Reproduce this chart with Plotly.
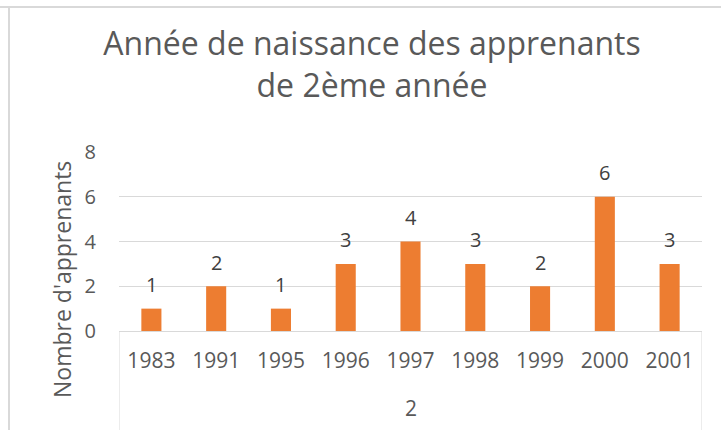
import plotly.graph_objects as go

years = ["1983", "1991", "1995", "1996", "1997", "1998", "1999", "2000", "2001"]
group_label = "2"
counts = [1, 2, 1, 3, 4, 3, 2, 6, 3]
y_ticks = [0, 2, 4, 6, 8]

FONT = "Open Sans"
GREY = "#595959"
LINE = "#D9D9D9"

W, H = 721, 430
L, R, T, B = 119, 19, 152, 99
PH = H - T - B


def py(pix):
    """pixel y (from top) -> paper y"""
    return (H - B - pix) / PH


def px(pix):
    return (pix - L) / (W - L - R)


fig = go.Figure(
    go.Bar(
        x=years,
        y=counts,
        marker=dict(color="#ED7D31", line=dict(width=0)),
        hoverinfo="skip",
    )
)

# data labels above bars, placed on the axes' scales (category index)
for i, c in enumerate(counts):
    fig.add_annotation(
        x=i, y=c, xref="x", yref="y",
        text=str(c), showarrow=False,
        xanchor="center", yanchor="middle", yshift=24,
        font=dict(family=FONT, size=20, color="#404040"),
    )

fig.update_layout(
    width=W,
    height=H,
    margin=dict(l=L, r=R, t=T, b=B, autoexpand=False),
    paper_bgcolor="white",
    plot_bgcolor="white",
    bargap=0.69,
    showlegend=False,
    title=dict(
        text="Année de naissance des apprenants<br>de 2ème année",
        x=0.516,
        xanchor="center",
        xref="container",
        yref="container",
        y=1 - 55 / H,
        yanchor="top",
        font=dict(family=FONT, size=32, color=GREY),
    ),
    font=dict(family=FONT, color=GREY),
)

fig.update_yaxes(
    range=[0, 8],
    tickvals=y_ticks,
    showgrid=True,
    gridcolor=LINE,
    gridwidth=1,
    zeroline=False,
    showline=False,
    ticks="",
    automargin=False,
    ticklabelstandoff=22,
    tickfont=dict(family=FONT, size=20, color=GREY),
)

fig.update_xaxes(
    type="category",
    categoryorder="array",
    categoryarray=years,
    range=[-0.5, len(years) - 0.5],
    showline=True,
    linecolor=LINE,
    linewidth=1,
    ticks="",
    automargin=False,
    ticklabelstandoff=11,
    tickfont=dict(family=FONT, size=21, color=GREY),
)

# group level label and its dividers (category axis scale)
fig.add_annotation(
    text=group_label,
    xref="x", yref="paper",
    x=(len(years) - 1) / 2, y=py(408),
    showarrow=False, xanchor="center", yanchor="middle",
    font=dict(family=FONT, size=21, color=GREY),
)
for xe in (-0.5, len(years) - 0.5):
    fig.add_shape(type="line", xref="x", yref="paper",
                  x0=xe, x1=xe, y0=0, y1=py(432),
                  line=dict(color=LINE, width=1))

fig.add_annotation(
    text="Nombre d'apprenants",
    textangle=-90,
    xref="paper", yref="paper",
    x=px(62), y=py(280),
    showarrow=False,
    xanchor="center", yanchor="middle",
    font=dict(family=FONT, size=23, color=GREY),
)

# outer chart frame edges
fig.add_shape(type="line", xref="paper", yref="paper",
              x0=px(-2), x1=px(725), y0=py(7), y1=py(7),
              line=dict(color=LINE, width=2))
fig.add_shape(type="line", xref="paper", yref="paper",
              x0=px(9), x1=px(9), y0=py(7), y1=py(432),
              line=dict(color=LINE, width=2))

fig.write_html(
    "out.html",
    config={"displayModeBar": False},
    post_script="document.body.style.margin='0';",
)
